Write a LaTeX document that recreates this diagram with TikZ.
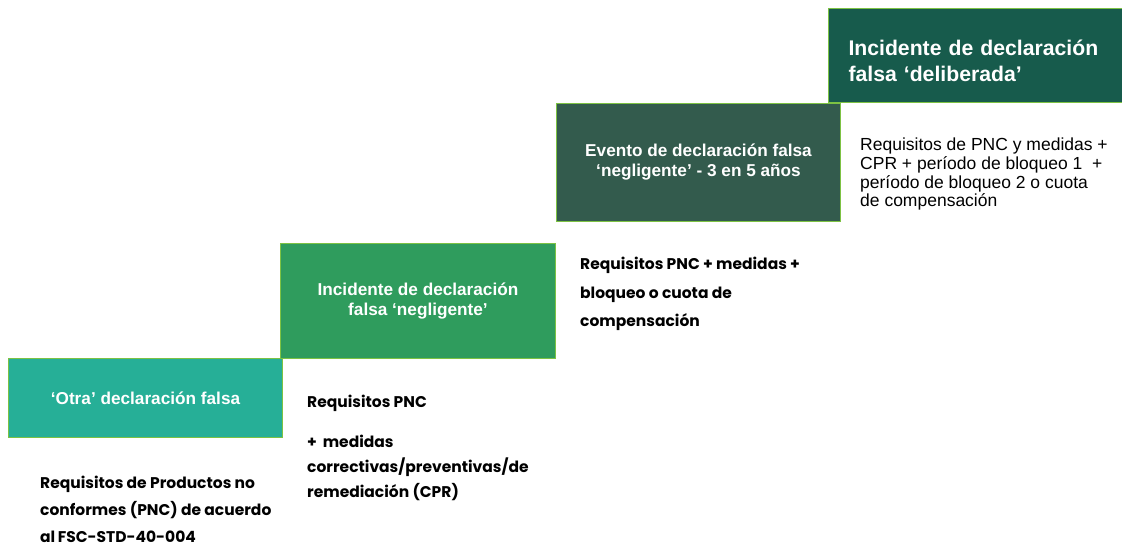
\documentclass[tikz,border=0pt]{standalone}
\usepackage{fontspec}
\setmainfont{Liberation Sans}
\newfontfamily\geofont{Poppins}
\usepackage{xcolor}
\usetikzlibrary{positioning}
\definecolor{tealstep}{HTML}{26AF97}
\definecolor{greenstep}{HTML}{2F9C5D}
\definecolor{darkstep}{HTML}{335B4D}
\definecolor{deepstep}{HTML}{175B4C}
\definecolor{edgegreen}{HTML}{7DC243}

\begin{document}
\begin{tikzpicture}[
    x=1pt, y=-1pt,
    stepbox/.style={rectangle, draw=edgegreen, line width=1pt, text=white, font=\fontsize{17.2}{20}\selectfont\bfseries, align=center, anchor=north west, inner sep=0pt},
    note/.style={anchor=north west, align=left, inner sep=0pt, font=\geofont\bfseries\fontsize{15.5}{27}\selectfont},
    plainnote/.style={anchor=north west, align=left, inner sep=0pt, font=\fontsize{17.5}{18.7}\selectfont}
]
    \useasboundingbox (0,0) rectangle (1122,548);

    % Steps of the staircase
    \node[stepbox, fill=tealstep, minimum width=274pt, minimum height=79pt] (otra) at (8,358) {‘Otra’ declaración falsa};
    \node[stepbox, fill=greenstep, minimum width=275pt, minimum height=115pt] (negligente) at (280,243) {Incidente de declaración\\falsa ‘negligente’};
    \node[stepbox, fill=darkstep, minimum width=284pt, minimum height=118pt] (evento) at (556,103) {Evento de declaración falsa\\‘negligente’ - 3 en 5 años};
    \node[stepbox, fill=deepstep, minimum height=94pt, text width=254pt, inner xsep=20pt, align=left, font=\fontsize{21.2}{26}\selectfont\bfseries] (deliberada) at (828,8) {\rule{0pt}{25.5pt}Incidente de declaración\\falsa ‘deliberada’};

    % Requirements under each step
    \node[note] (req1) at (40,476) {Requisitos de Productos no\\conformes (PNC) de acuerdo\\al\,FSC-STD-40-004};
    \node[note, font=\geofont\bfseries\fontsize{15.5}{25}\selectfont] (req2) at (307,395) {Requisitos PNC\\[15pt]+ \,medidas\\correctivas/preventivas/de\\remediación (CPR)};
    \node[note, font=\geofont\bfseries\fontsize{15.5}{28.5}\selectfont] (req3) at (580,257) {Requisitos PNC + medidas +\\bloqueo o cuota de\\compensación};
    \node[plainnote] (req4) at (860,138) {Requisitos de PNC y medidas +\\CPR + período de bloqueo 1~ +\\período de bloqueo 2 o cuota\\de compensación};
\end{tikzpicture}
\end{document}
